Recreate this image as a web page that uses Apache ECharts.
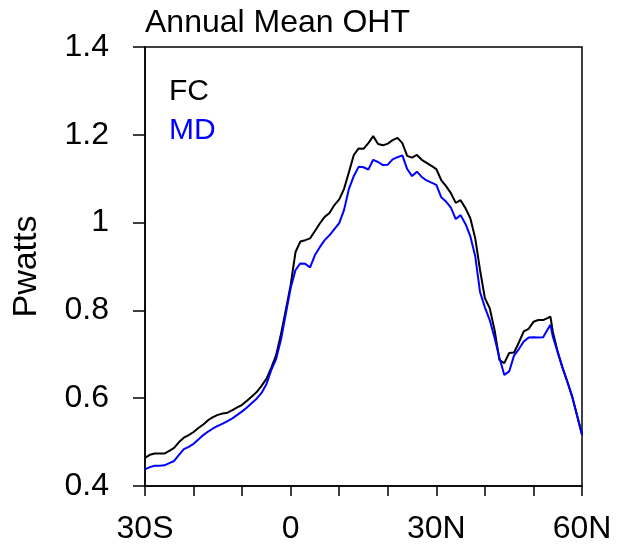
<!DOCTYPE html>
<html>
<head>
<meta charset="utf-8">
<title>Annual Mean OHT</title>
<script src="https://cdn.jsdelivr.net/npm/echarts@6/dist/echarts.min.js"></script>
<style>
  html, body { margin: 0; padding: 0; background: #fff; }
  #chart { width: 625px; height: 550px; }
</style>
</head>
<body>
<div id="chart"></div>
<script>
// Latitude (degrees, negative = south)
const lat = [
  -30, -29, -28, -27, -26, -25, -24, -23, -22, -21,
  -20, -19, -18, -17, -16, -15, -14, -13, -12, -11,
  -10, -9, -8, -7, -6, -5, -4, -3, -2, -1,
  0, 1, 2, 3, 4, 5, 6, 7, 8, 9,
  10, 11, 12, 13, 14, 15, 16, 17, 18, 19,
  20, 21, 22, 23, 24, 25, 26, 27, 28, 29,
  30, 31, 32, 33, 34, 35, 36, 37, 38, 39,
  40, 41, 42, 43, 44, 45, 46, 47, 48, 49,
  50, 51, 52, 53, 53.5, 54, 55, 56, 57, 58, 59, 60
];

// Northward ocean heat transport (PW), FC run
const fc = [
  0.464, 0.471, 0.474, 0.474, 0.474, 0.480, 0.487, 0.500, 0.510, 0.516,
  0.523, 0.532, 0.540, 0.550, 0.557, 0.562, 0.565, 0.567, 0.573, 0.579,
  0.585, 0.594, 0.604, 0.614, 0.628, 0.644, 0.669, 0.698, 0.746, 0.801,
  0.858, 0.933, 0.957, 0.960, 0.964, 0.981, 0.998, 1.013, 1.022, 1.040,
  1.053, 1.077, 1.115, 1.154, 1.169, 1.168, 1.181, 1.197, 1.179, 1.176,
  1.180, 1.188, 1.193, 1.181, 1.152, 1.148, 1.154, 1.143, 1.136, 1.129,
  1.122, 1.097, 1.083, 1.067, 1.045, 1.051, 1.033, 1.010, 0.965, 0.892,
  0.828, 0.805, 0.755, 0.687, 0.680, 0.703, 0.704, 0.727, 0.752, 0.758,
  0.774, 0.778, 0.778, 0.783, 0.786, 0.751, 0.705, 0.669, 0.637, 0.603, 0.560, 0.518
];

// Northward ocean heat transport (PW), MD run
const md = [
  0.438, 0.443, 0.446, 0.446, 0.447, 0.452, 0.457, 0.471, 0.484, 0.489,
  0.496, 0.506, 0.516, 0.524, 0.531, 0.537, 0.542, 0.548, 0.554, 0.562,
  0.570, 0.579, 0.589, 0.599, 0.612, 0.632, 0.664, 0.689, 0.733, 0.792,
  0.851, 0.892, 0.907, 0.906, 0.898, 0.926, 0.944, 0.960, 0.971, 0.985,
  0.999, 1.029, 1.077, 1.106, 1.127, 1.126, 1.121, 1.143, 1.138, 1.131,
  1.132, 1.144, 1.149, 1.153, 1.122, 1.106, 1.116, 1.104, 1.096, 1.091,
  1.086, 1.058, 1.048, 1.034, 1.008, 1.017, 0.997, 0.969, 0.924, 0.842,
  0.807, 0.778, 0.737, 0.692, 0.653, 0.661, 0.697, 0.712, 0.729, 0.738,
  0.739, 0.738, 0.739, 0.758, 0.767, 0.740, 0.705, 0.669, 0.637, 0.603, 0.560, 0.516
];

// Labelled latitude ticks
const xTickLabels = { '-30': '30S', '0': '0', '30': '30N', '60': '60N' };

const FONT = 'Liberation Sans, Helvetica, Arial, sans-serif';

const chart = echarts.init(document.getElementById('chart'), null, { renderer: 'canvas' });

chart.setOption({
  backgroundColor: '#fff',
  animation: false,
  title: {
    text: 'Annual Mean OHT',
    left: 140,
    top: 2,
    textStyle: { fontFamily: FONT, fontSize: 32, fontWeight: 'normal', color: '#000' }
  },
  legend: {
    orient: 'vertical',
    left: 159,
    top: 72,
    itemWidth: 0,
    itemHeight: 0,
    itemGap: 9,
    icon: 'none',
    selectedMode: false,
    textStyle: { fontFamily: FONT, fontSize: 30 },
    data: [
      { name: 'FC', textStyle: { color: '#000000' } },
      { name: 'MD', textStyle: { color: '#0000ff' } }
    ]
  },
  grid: {
    left: 145, right: 43, top: 47, bottom: 64,
    show: true, borderColor: '#000', borderWidth: 1.5,
    containLabel: false
  },
  xAxis: {
    type: 'value',
    min: -30, max: 60, interval: 10,
    axisLine: { show: true, onZero: false, lineStyle: { color: '#000', width: 1.5 } },
    axisTick: {
      show: true, inside: false, length: 10,
      lineStyle: { color: '#000', width: 1.5 }
    },
    splitLine: { show: false },
    axisLabel: {
      margin: 27,
      fontFamily: FONT, fontSize: 32, color: '#000',
      formatter: function (v) {
        const key = String(Math.round(v));
        return key in xTickLabels ? xTickLabels[key] : '';
      }
    }
  },
  yAxis: {
    type: 'value',
    min: 0.4, max: 1.4, interval: 0.2,
    name: 'Pwatts',
    nameLocation: 'middle',
    nameGap: 101,
    nameTextStyle: { fontFamily: FONT, fontSize: 34, color: '#000' },
    axisLine: { show: true, onZero: false, lineStyle: { color: '#000', width: 1.5 } },
    axisTick: {
      show: true, inside: false, length: 12,
      lineStyle: { color: '#000', width: 1.5 }
    },
    splitLine: { show: false },
    axisLabel: {
      margin: 36,
      fontFamily: FONT, fontSize: 32, color: '#000',
      formatter: function (v) { return String(+v.toFixed(1)); }
    }
  },
  series: [
    {
      name: 'FC', type: 'line', showSymbol: false, symbol: 'none',
      lineStyle: { color: '#000000', width: 2 },
      itemStyle: { color: '#000000' },
      data: lat.map((x, i) => [x, fc[i]])
    },
    {
      name: 'MD', type: 'line', showSymbol: false, symbol: 'none',
      lineStyle: { color: '#0000ff', width: 2 },
      itemStyle: { color: '#0000ff' },
      data: lat.map((x, i) => [x, md[i]])
    }
  ]
});
</script>
</body>
</html>
